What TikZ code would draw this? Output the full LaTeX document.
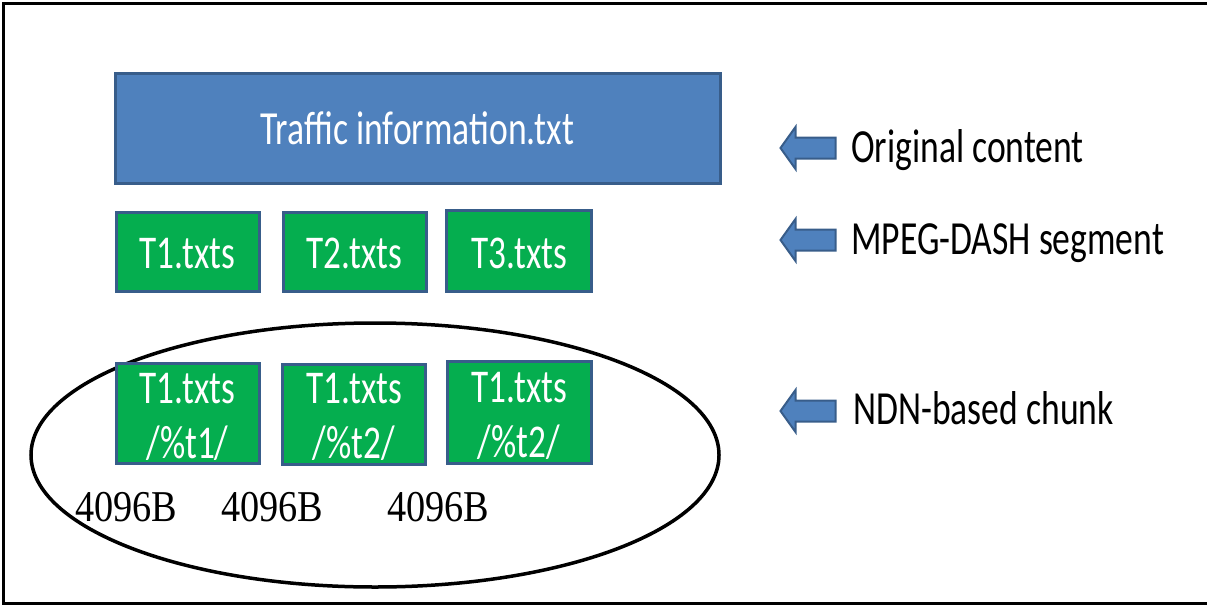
\documentclass[tikz,border=0pt]{standalone}
\usepackage{fontspec}
\setmainfont{Carlito}[FakeStretch=0.75]
\newfontfamily\timesf{Liberation Serif}[FakeStretch=0.87]
\usetikzlibrary{shapes.geometric}
\definecolor{boxblue}{HTML}{4F81BD}
\definecolor{boxedge}{HTML}{385D8A}
\definecolor{boxgreen}{HTML}{05AE4F}
\tikzset{
  bluebox/.style={draw=boxedge, fill=boxblue, line width=3pt, text=white,
    font=\fontsize{47.5}{50}\selectfont, inner sep=0pt},
  greenbox/.style={draw=boxedge, fill=boxgreen, line width=3pt, text=white,
    font=\fontsize{47}{55}\selectfont, inner sep=0pt},
  chunktext/.style={text=white, font=\fontsize{47}{55}\selectfont, inner sep=0pt, align=center},
  pics/blockarrow/.style={code={
    \filldraw[draw=boxedge, fill=boxblue, line width=2pt, line join=miter]
      (-27.5,0) -- (-12.5,-21) -- (-12.5,-10.5) -- (27.5,-10.5) -- (27.5,10.5)
      -- (-12.5,10.5) -- (-12.5,21) -- cycle;}},
  sidelabel/.style={anchor=base west, font=\fontsize{47.5}{50}\selectfont, inner sep=0pt},
  bytes/.style={anchor=base west, font=\timesf\fontsize{44}{48}\selectfont, inner sep=0pt},
}
\begin{document}
\begin{tikzpicture}[x=1pt, y=-1pt]
\useasboundingbox (0,0) rectangle (1207,605);
\draw[line width=3pt] (1207,3.5) -- (3,3.5) -- (3,603) -- (1207,603);
% original content
\node[bluebox, minimum width=605pt, minimum height=110pt] (orig) at (417.5,128) {Traffic information.txt};
% segments
\node[greenbox, minimum width=143pt, minimum height=79pt] (s1) at (187.5,251.5) {};
\node[greenbox, minimum width=143pt, minimum height=79pt] (s2) at (354.5,251.5) {};
\node[greenbox, minimum width=145pt, minimum height=81pt] (s3) at (519,250.5) {};
\node[chunktext, anchor=base] (s1t) at (187.5,268) {T1.txts};
\node[chunktext, anchor=base] (s2t) at (354.5,268) {T2.txts};
\node[chunktext, anchor=base] (s3t) at (519,268) {T3.txts};
% chunks
\node[draw, line width=3.5pt, ellipse, minimum width=688pt, minimum height=264pt, inner sep=0pt] (ell) at (375,455) {};
\node[greenbox, minimum width=143pt, minimum height=100pt] (c1) at (187.5,413) {};
\node[greenbox, minimum width=143pt, minimum height=100pt] (c2) at (354,414) {};
\node[greenbox, minimum width=144pt, minimum height=102pt] (c3) at (519,412) {};
\node[chunktext] (c1t) at (187.5,417) {T1.txts\\/\%t1/};
\node[chunktext] (c2t) at (354,417) {T1.txts\\/\%t2/};
\node[chunktext] (c3t) at (519,416) {T1.txts\\/\%t2/};
\node[bytes] (b1) at (75,521) {4096B};
\node[bytes] (b2) at (221,521) {4096B};
\node[bytes] (b3) at (387,521) {4096B};
% labels
\pic at (808,148) {blockarrow};
\pic at (808,240) {blockarrow};
\pic at (808,411) {blockarrow};
\node[sidelabel] (l1) at (851,162) {Original content};
\node[sidelabel] (l2) at (851,254) {MPEG-DASH segment};
\node[sidelabel] (l3) at (853,424) {NDN-based chunk};
\end{tikzpicture}
\end{document}
